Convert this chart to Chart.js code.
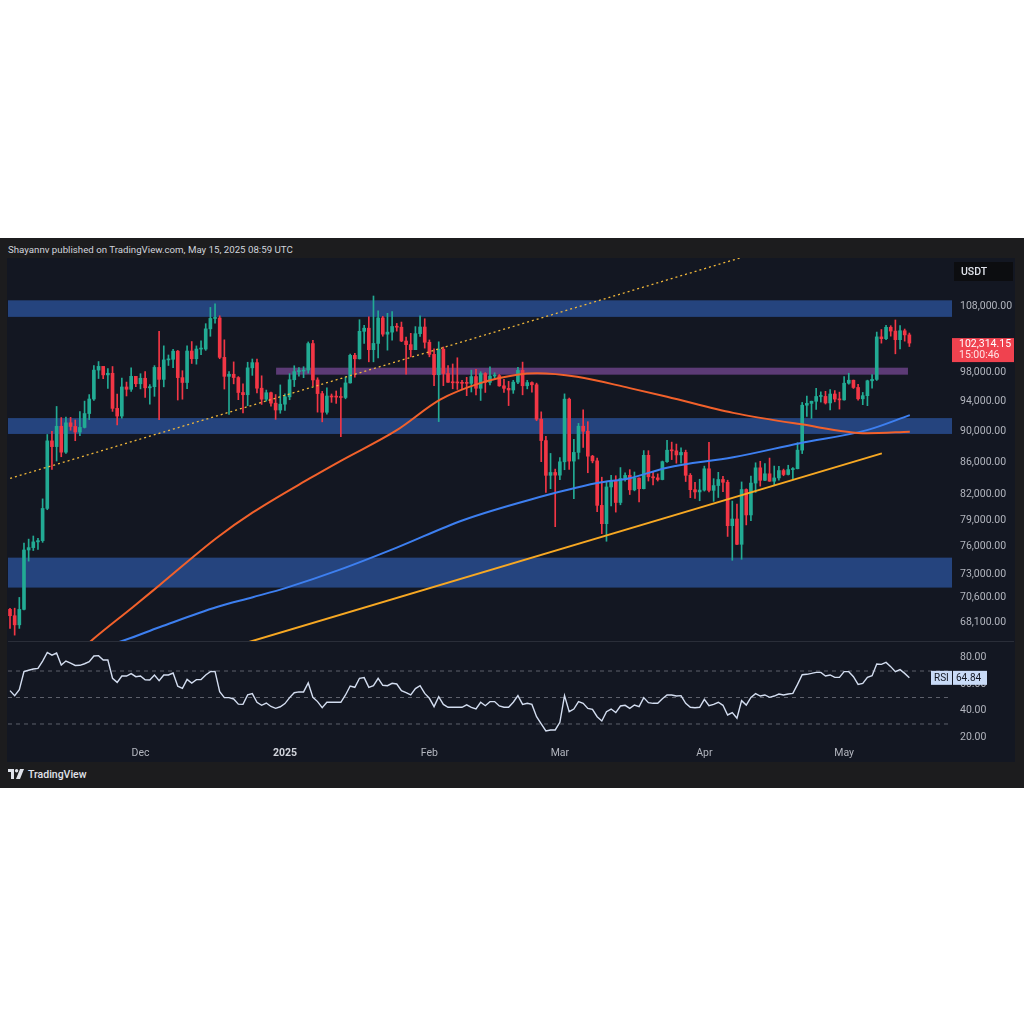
<!DOCTYPE html>
<html>
<head>
<meta charset="utf-8">
<title>BTC/USDT 1D</title>
<script src="https://cdn.jsdelivr.net/npm/chart.js@4.4.1/dist/chart.umd.min.js"></script>
<style>
  html, body { margin: 0; padding: 0; background: #ffffff; }
  body { width: 1024px; height: 1024px; position: relative; overflow: hidden; font-family: Roboto, "Noto Sans", sans-serif; }
  #frame { position: absolute; left: 0; top: 238px; width: 1024px; height: 550px; background: #1c1c1e; }
  #header { position: absolute; left: 8px; top: 5px; font-size: 9.7px; line-height: 14px; color: #d1d4dc; white-space: nowrap; }
  #panel { position: absolute; left: 7px; top: 20px; width: 1008px; height: 504px; background: #131722; }
  #pricebox { position: absolute; left: 1px; top: 0; width: 1006px; height: 383px; }
  #sep { position: absolute; left: 1px; top: 383px; width: 1006px; height: 1px; background: #2a2e39; }
  #rsibox { position: absolute; left: 1px; top: 384px; width: 1006px; height: 120px; }
  #footer { position: absolute; left: 8px; top: 529px; height: 14px; display: flex; align-items: center; gap: 4px; font-size: 10.5px; font-weight: 500; color: #e0e3eb; }
</style>
</head>
<body>
<div id="frame">
  <div id="header">Shayannv published on TradingView.com, May 15, 2025 08:59 UTC</div>
  <div id="panel">
    <div id="pricebox"><canvas id="priceChart"></canvas></div>
    <div id="sep"></div>
    <div id="rsibox"><canvas id="rsiChart"></canvas></div>
  </div>
  <div id="footer">
    <svg width="16" height="10" viewBox="0 0 16 10">
      <path d="M0 0h6v10H3V3H0z" fill="#e0e3eb"/>
      <circle cx="8.6" cy="1.7" r="1.7" fill="#e0e3eb"/>
      <path d="M12 0h4l-4 10H8z" fill="#e0e3eb"/>
    </svg>
    <span>TradingView</span>
  </div>
</div>

<script>
// BTC/USDT daily, 3 Nov 2024 -> 15 May 2025 (prices in thousands of USDT)
const opens = [
  69.36, 68.72, 67.81, 69.36, 75.64, 75.90, 76.54, 76.68, 80.37, 88.70, 87.96, 90.61, 87.25, 91.07, 90.59, 89.85, 90.46, 92.31, 94.29, 98.35, 98.89, 97.67, 97.90, 93.01, 91.97, 95.96, 95.64, 97.46,
  96.41, 97.19, 95.84, 96.00, 98.74, 97.03, 99.83, 99.92, 101.11, 97.28, 96.59, 101.13, 100.00, 101.42, 101.42, 104.46, 106.06, 106.13, 100.20, 97.46, 97.76, 97.29, 95.19, 94.88, 98.68, 99.43, 95.79, 94.27, 95.16, 93.72, 92.79,
  93.58, 94.59, 96.98, 98.14, 98.22, 98.36, 102.24, 96.95, 95.04, 92.48, 94.70, 94.57, 94.55, 94.50, 96.53, 100.50, 99.99, 104.08, 104.56, 101.33, 102.26, 106.14, 103.65, 103.96, 104.82, 104.71, 102.62, 102.08, 101.33, 103.73, 104.74,
  102.43, 100.64, 97.69, 101.40, 97.87, 96.62, 96.55, 96.53, 96.48, 96.47, 97.43, 95.78, 97.87, 96.61, 97.51, 97.57, 96.12, 95.77, 95.54, 96.64, 98.31, 96.13, 96.58, 96.27, 91.55, 88.74, 84.35, 84.70,
  84.37, 86.03, 94.27, 86.12, 87.22, 90.62, 89.96, 86.74, 86.15, 80.73, 78.60, 82.93, 83.68, 81.07, 83.97, 84.34, 82.58, 84.01, 82.72, 86.85, 84.17, 84.04, 83.83, 86.05, 87.50, 87.42, 86.90, 87.22, 84.35, 82.60, 82.33,
  82.55, 85.16, 82.52, 83.10, 83.84, 83.50, 78.37, 79.14, 76.27, 82.62, 79.61, 83.40, 85.28, 83.74, 84.54, 83.63, 84.03, 84.94, 84.45, 85.06, 85.17, 87.51, 93.44, 93.69, 93.98, 94.64, 94.65, 93.75, 94.98, 94.28,
  94.17, 96.49, 96.91, 95.89, 94.32, 94.75, 96.83, 97.03, 103.24, 102.97, 104.70, 104.12, 102.82, 104.17, 103.54
];
const highs = [
  69.47, 69.48, 70.58, 76.40, 76.85, 77.20, 76.93, 81.50, 89.53, 89.96, 93.27, 91.77, 91.85, 91.80, 91.45, 92.59, 94.00, 94.90, 98.99, 99.59, 98.89, 98.56, 98.87, 94.97, 97.20, 96.65, 98.69, 97.46,
  97.84, 98.15, 96.30, 99.00, 104.09, 101.90, 100.55, 101.40, 101.22, 98.27, 101.90, 102.54, 101.89, 102.65, 105.25, 107.78, 108.35, 106.47, 102.80, 98.15, 99.54, 97.43, 96.42, 99.49, 99.96, 99.96, 97.54, 95.53, 95.24, 94.90, 96.25,
  95.00, 97.84, 98.98, 98.73, 98.84, 102.48, 102.72, 97.26, 95.35, 95.84, 94.98, 95.40, 95.84, 97.37, 100.68, 100.78, 105.86, 104.99, 106.31, 109.59, 107.24, 106.39, 106.85, 107.12, 105.29, 105.50, 103.22, 103.78, 104.80, 106.46, 106.01,
  102.78, 101.46, 102.50, 101.73, 99.00, 99.24, 100.14, 96.88, 97.32, 98.35, 98.48, 98.12, 98.00, 98.83, 97.97, 97.73, 97.05, 96.75, 96.90, 98.76, 99.51, 96.90, 96.67, 96.50, 92.54, 89.29, 87.09, 85.12,
  86.56, 95.00, 94.42, 88.91, 90.99, 92.81, 91.22, 86.85, 86.50, 84.12, 83.62, 84.36, 84.30, 85.31, 84.67, 85.05, 84.76, 84.04, 87.45, 87.44, 84.78, 84.53, 86.13, 88.77, 88.54, 88.29, 87.79, 87.51, 84.57, 83.50, 83.87,
  85.49, 88.50, 83.94, 84.72, 84.24, 83.75, 81.24, 80.87, 83.54, 82.70, 84.27, 85.91, 86.10, 85.80, 86.50, 85.50, 85.47, 85.12, 85.60, 85.31, 88.46, 93.82, 94.70, 94.00, 95.76, 95.28, 95.35, 95.60, 95.46, 95.24,
  97.44, 97.90, 96.94, 96.32, 95.20, 96.92, 97.73, 103.97, 104.36, 104.98, 104.94, 105.82, 104.96, 104.43, 103.82
];
const lows = [
  67.46, 66.80, 67.46, 69.30, 74.42, 75.58, 75.70, 76.49, 80.22, 85.07, 86.13, 86.67, 87.10, 90.09, 88.72, 89.38, 90.38, 91.50, 94.10, 97.15, 97.13, 95.75, 92.60, 90.79, 91.70, 94.71, 95.35, 96.00,
  95.69, 94.50, 93.58, 94.66, 91.50, 95.98, 99.02, 98.69, 94.15, 94.26, 95.71, 99.31, 99.21, 100.60, 101.23, 103.33, 105.32, 100.00, 95.67, 92.18, 96.40, 94.20, 92.40, 93.38, 97.60, 95.14, 93.55, 94.00, 93.31, 91.53, 92.35,
  92.74, 94.19, 96.02, 97.50, 97.27, 97.91, 96.13, 92.50, 91.20, 92.21, 93.83, 93.69, 89.26, 94.32, 96.50, 97.33, 99.95, 102.27, 99.55, 99.55, 100.12, 103.34, 101.26, 102.75, 104.11, 102.52, 97.78, 100.27, 101.33, 103.32, 101.56,
  100.28, 96.15, 91.23, 96.15, 96.59, 95.71, 95.62, 95.69, 94.75, 95.26, 94.87, 94.09, 95.20, 96.25, 97.23, 96.05, 95.21, 93.39, 95.07, 96.43, 94.87, 95.70, 95.23, 91.35, 86.05, 82.26, 82.72, 78.26,
  83.82, 85.04, 85.08, 81.53, 86.38, 87.85, 84.67, 85.90, 80.00, 77.46, 76.61, 80.66, 79.94, 80.80, 83.63, 82.02, 82.46, 81.14, 82.69, 83.65, 83.18, 83.65, 83.79, 85.95, 86.31, 85.86, 85.85, 83.59, 81.64, 81.56, 81.28,
  82.43, 82.32, 81.21, 81.66, 82.37, 77.15, 74.51, 76.24, 74.62, 78.46, 78.94, 82.27, 83.03, 83.68, 83.61, 83.11, 83.76, 84.30, 84.39, 83.95, 85.14, 87.07, 91.93, 91.66, 92.86, 93.87, 93.60, 92.80, 93.90, 92.91,
  94.13, 96.35, 95.75, 94.13, 93.51, 93.38, 95.80, 96.88, 102.30, 102.81, 103.35, 100.72, 101.43, 102.60, 101.80
];
const closes = [
  68.72, 67.81, 69.36, 75.64, 75.90, 76.54, 76.68, 80.37, 88.70, 87.96, 90.61, 87.25, 91.07, 90.59, 89.85, 90.46, 92.31, 94.29, 98.35, 98.89, 97.67, 97.90, 93.01, 91.97, 95.96, 95.64, 97.46, 96.41,
  97.19, 95.84, 96.00, 98.74, 97.03, 99.83, 99.92, 101.11, 97.28, 96.59, 101.13, 100.00, 101.42, 101.42, 104.46, 106.06, 106.13, 100.20, 97.46, 97.76, 97.29, 95.19, 94.88, 98.68, 99.43, 95.79, 94.27, 95.16, 93.72, 92.79, 93.58,
  94.59, 96.98, 98.14, 98.22, 98.36, 102.24, 96.95, 95.04, 92.48, 94.70, 94.57, 94.55, 94.50, 96.53, 100.50, 99.99, 104.08, 104.56, 101.33, 102.26, 106.14, 103.65, 103.96, 104.82, 104.71, 102.62, 102.08, 101.33, 103.73, 104.74, 102.43,
  100.64, 97.69, 101.40, 97.87, 96.62, 96.55, 96.53, 96.48, 96.47, 97.43, 95.78, 97.87, 96.61, 97.51, 97.57, 96.12, 95.77, 95.54, 96.64, 98.31, 96.13, 96.58, 96.27, 91.55, 88.74, 84.35, 84.70, 84.37,
  86.03, 94.27, 86.12, 87.22, 90.62, 89.96, 86.74, 86.15, 80.73, 78.60, 82.93, 83.68, 81.07, 83.97, 84.34, 82.58, 84.01, 82.72, 86.85, 84.17, 84.04, 83.83, 86.05, 87.50, 87.42, 86.90, 87.22, 84.35, 82.60, 82.33, 82.55,
  85.16, 82.52, 83.10, 83.84, 83.50, 78.37, 79.14, 76.27, 82.62, 79.61, 83.40, 85.28, 83.74, 84.54, 83.63, 84.03, 84.94, 84.45, 85.06, 85.17, 87.51, 93.44, 93.69, 93.98, 94.64, 94.65, 93.75, 94.98, 94.28, 94.17,
  96.49, 96.91, 95.89, 94.32, 94.75, 96.83, 97.03, 103.24, 102.97, 104.70, 104.12, 102.82, 104.17, 103.54, 102.31
];
const lastPrice = "102,314.15";
const countdown = "15:00:46";

const rsiValues = [
  55.2, 51.4, 55.9, 69.5, 70.6, 71.5, 72.0, 77.5, 84.0, 82.0,
  83.6, 74.5, 77.5, 76.0, 74.2, 74.3, 75.5, 77.0, 81.3, 81.6,
  78.3, 78.3, 64.5, 61.4, 66.2, 66.2, 68.0, 65.7, 66.2, 63.4,
  63.2, 67.0, 62.7, 67.0, 67.0, 68.5, 58.5, 56.9, 63.7, 60.9,
  63.5, 63.5, 67.0, 69.5, 69.7, 54.4, 49.9, 49.9, 48.9, 45.0,
  44.8, 52.0, 52.9, 46.4, 44.1, 45.8, 43.2, 41.8, 43.0, 45.4,
  49.9, 53.6, 54.2, 54.2, 61.0, 50.1, 46.9, 42.3, 46.4, 46.4,
  46.4, 46.4, 51.9, 58.7, 57.7, 64.5, 65.0, 57.7, 58.9, 64.5,
  59.2, 58.9, 60.7, 60.2, 55.2, 53.6, 51.9, 56.7, 58.9, 53.1,
  49.4, 43.1, 50.6, 44.8, 42.6, 42.6, 42.6, 42.6, 44.5, 42.5,
  41.3, 46.4, 43.8, 46.9, 46.9, 43.6, 42.6, 42.6, 46.4, 51.4,
  44.8, 45.6, 44.8, 35.5, 30.0, 24.7, 25.5, 25.5, 31.3, 51.4,
  39.3, 41.3, 46.9, 45.6, 41.8, 41.1, 35.5, 32.3, 39.3, 41.3,
  38.6, 43.6, 44.1, 41.8, 44.3, 43.1, 49.9, 46.1, 45.6, 45.6,
  49.1, 51.9, 51.9, 51.1, 51.4, 45.6, 42.6, 42.3, 42.6, 48.6,
  43.8, 44.8, 46.4, 44.1, 36.8, 38.6, 34.3, 47.6, 44.3, 50.1,
  52.9, 51.1, 51.9, 50.1, 51.1, 52.6, 51.9, 52.6, 53.1, 59.9,
  67.2, 67.5, 68.2, 69.0, 69.0, 66.2, 67.0, 65.2, 65.2, 69.5,
  69.5, 65.7, 59.9, 60.7, 65.2, 66.5, 75.3, 75.0, 76.5, 73.3,
  69.5, 71.0, 68.2, 64.84
];

// moving averages, read at sample days (day index -> value)
const orangeDays = [12, 17.2, 26.4, 32.2, 44.4, 52.1, 64.4, 70.8, 83, 92.3, 100.9, 108.8, 113.1, 121.7, 133, 141, 155.2, 169.5, 183.9, 193.1];
const orangeVals = [64.0, 66.16, 69.6, 71.9, 77.0, 79.9, 84.0, 86.1, 90.1, 94.2, 96.5, 97.7, 97.9, 97.4, 95.8, 94.6, 92.4, 90.9, 89.7, 89.9];
const blueDays = [19, 23.6, 32.2, 44.4, 52.1, 59.4, 70.8, 83, 97.2, 111.6, 126, 133, 141, 155.2, 169.5, 183.9, 193.1];
const blueVals = [65.6, 66.16, 67.6, 69.6, 70.6, 71.6, 73.5, 75.9, 79.0, 81.4, 83.4, 84.0, 85.3, 86.6, 88.4, 90.1, 92.1];

// drawn trend lines
const supportDays = [45, 187.1];
const supportVals = [65.3, 87.1];
const dottedDays = [-1, 160];
const dottedVals = [83.8, 116.65];

// horizontal zones
const zoneLows = [106.3, 89.6, 71.6];
const zoneHighs = [108.9, 91.7, 74.8];
const purpleLow = 97.7, purpleHigh = 98.7;
const purpleDays = [57.1, 192.7];

// axes
const priceTicks = [68.1, 70.6, 73, 76, 79, 82, 86, 90, 94, 98, 102, 108];
const rsiTicks = [20, 40, 60, 80];
const rsiLevels = [30, 50, 70];
const monthDays = [28, 59, 90, 118, 149, 179];
const monthLabels = ["Dec", "2025", "Feb", "Mar", "Apr", "May"];

const xMin = -0.43, xMax = 202.15;
const upColor = "#22ab94", downColor = "#f23645";
const axisColor = "#b2b5be";

Chart.defaults.font.family = "Roboto";
Chart.defaults.animation = false;

const days = closes.map((_, i) => i);
const candleColor = (c) => closes[c.dataIndex] >= opens[c.dataIndex] ? upColor : downColor;
// fixed axis width, and no extra room kept for the end labels
const fixWidth = (scale) => { scale.width = 62; scale.paddingTop = 0; scale.paddingBottom = 0; };
const fmt = (v) => v.toLocaleString("en-US", { minimumFractionDigits: 2, maximumFractionDigits: 2 });

const zonesPlugin = {
  id: "zones",
  beforeDatasetsDraw(chart) {
    const { ctx, chartArea: a, scales: { x, y } } = chart;
    ctx.save();
    ctx.beginPath();
    ctx.rect(a.left, a.top, a.width, a.height);
    ctx.clip();
    ctx.fillStyle = "#25447e";
    zoneLows.forEach((lo, k) => {
      const top = y.getPixelForValue(zoneHighs[k]);
      const bot = y.getPixelForValue(lo);
      ctx.fillRect(a.left, top, a.width, bot - top);
    });
    ctx.fillStyle = "#5c3b76";
    const pt = y.getPixelForValue(purpleHigh), pb = y.getPixelForValue(purpleLow);
    const px0 = x.getPixelForValue(purpleDays[0]), px1 = x.getPixelForValue(purpleDays[1]);
    ctx.fillRect(px0, pt, px1 - px0, pb - pt);
    ctx.restore();
  },
  afterDraw(chart) {
    const { ctx, chartArea: a, scales: { y } } = chart;
    ctx.save();
    // currency box
    ctx.fillStyle = "#0c0d10";
    ctx.fillRect(a.right + 2, 4, 59, 19);
    ctx.fillStyle = "#e0e3eb";
    ctx.font = "500 10.5px Roboto";
    ctx.textBaseline = "middle";
    ctx.fillText("USDT", a.right + 9, 14);
    // last price label
    const py = y.getPixelForValue(closes[closes.length - 1]);
    ctx.fillStyle = "#f0424f";
    ctx.fillRect(a.right, py - 5, 62, 24);
    ctx.fillStyle = "#ffffff";
    ctx.font = "10.5px Roboto";
    ctx.fillText(lastPrice, a.right + 7, py + 1.5);
    ctx.fillStyle = "#ffe3e5";
    ctx.fillText(countdown, a.right + 7, py + 12.5);
    ctx.restore();
  }
};

new Chart(document.getElementById("priceChart"), {
  type: "bar",
  data: {
    datasets: [
      {
        type: "line", label: "MA orange", order: 0,
        data: orangeDays.map((d, k) => ({ x: d, y: orangeVals[k] })),
        borderColor: "#f2612b", borderWidth: 2, pointRadius: 0, cubicInterpolationMode: "monotone"
      },
      {
        type: "line", label: "MA blue", order: 0,
        data: blueDays.map((d, k) => ({ x: d, y: blueVals[k] })),
        borderColor: "#3d7ff0", borderWidth: 2, pointRadius: 0, cubicInterpolationMode: "monotone"
      },
      {
        type: "line", label: "Support", order: 0,
        data: supportDays.map((d, k) => ({ x: d, y: supportVals[k] })),
        borderColor: "#f7a823", borderWidth: 2, pointRadius: 0
      },
      {
        type: "line", label: "Trend", order: 0,
        data: dottedDays.map((d, k) => ({ x: d, y: dottedVals[k] })),
        borderColor: "#f2b83a", borderWidth: 1.3, borderDash: [2, 3], pointRadius: 0
      },
      {
        label: "Bodies", order: 1, grouped: false, barThickness: 3, minBarLength: 1,
        data: days.map((i) => ({ x: i, y: [opens[i], closes[i]] })),
        backgroundColor: candleColor, borderWidth: 0
      },
      {
        label: "Wicks", order: 2, grouped: false, barThickness: 1,
        data: days.map((i) => ({ x: i, y: [lows[i], highs[i]] })),
        backgroundColor: candleColor, borderWidth: 0
      }
    ]
  },
  options: {
    responsive: true,
    maintainAspectRatio: false,
    layout: { padding: 0 },
    plugins: { legend: { display: false }, tooltip: { enabled: false } },
    scales: {
      x: {
        type: "linear", min: xMin, max: xMax, offset: false, display: false,
        grid: { display: false }
      },
      y: {
        type: "logarithmic", position: "right", min: 66.23, max: 115.84,
        grid: { display: false, drawTicks: false },
        border: { display: false },
        afterFit: fixWidth,
        afterBuildTicks: (s) => { s.ticks = priceTicks.map((v) => ({ value: v })); },
        ticks: {
          color: axisColor, padding: 8, font: { size: 10.5 },
          callback: (v) => fmt(v * 1000)
        }
      }
    }
  },
  plugins: [zonesPlugin]
});

const rsiLabelPlugin = {
  id: "rsiLabel",
  afterDraw(chart) {
    const { ctx, chartArea: a, scales: { y } } = chart;
    const last = rsiValues[rsiValues.length - 1];
    const py = y.getPixelForValue(last);
    ctx.save();
    ctx.fillStyle = "#c9dbf7";
    ctx.fillRect(a.right - 21, py - 7, 21, 14);
    ctx.fillRect(a.right + 1, py - 7, 34, 14);
    ctx.fillStyle = "#131722";
    ctx.font = "10px Roboto";
    ctx.textBaseline = "middle";
    ctx.fillText("RSI", a.right - 18, py + 0.5);
    ctx.fillText(last.toFixed(2), a.right + 4, py + 0.5);
    ctx.restore();
  }
};

new Chart(document.getElementById("rsiChart"), {
  type: "line",
  data: {
    datasets: [
      {
        label: "RSI",
        data: days.map((i) => ({ x: i, y: rsiValues[i] })),
        borderColor: "#d3ddf0", borderWidth: 1.4, pointRadius: 0, tension: 0
      },
      ...rsiLevels.map((lv) => ({
        label: "level " + lv,
        data: [{ x: xMin, y: lv }, { x: xMax, y: lv }],
        borderColor: "#5d606b", borderWidth: 1, borderDash: [4, 4], pointRadius: 0
      }))
    ]
  },
  options: {
    responsive: true,
    maintainAspectRatio: false,
    layout: { padding: 0 },
    plugins: { legend: { display: false }, tooltip: { enabled: false } },
    scales: {
      x: {
        type: "linear", min: xMin, max: xMax, offset: false,
        grid: { display: false, drawTicks: false },
        border: { display: false },
        afterFit: (s) => { s.height = 20; s.paddingLeft = 0; s.paddingRight = 0; },
        afterBuildTicks: (s) => { s.ticks = monthDays.map((v) => ({ value: v })); },
        ticks: {
          autoSkip: false, maxRotation: 0, padding: 5,
          color: (c) => (c.tick && c.tick.value === 59 ? "#d1d4dc" : axisColor),
          font: (c) => ({ size: 10.5, weight: c.tick && c.tick.value === 59 ? "bold" : "normal" }),
          callback: (v, idx) => monthLabels[idx]
        }
      },
      y: {
        position: "right", min: 16.4, max: 91.9,
        grid: { display: false, drawTicks: false },
        border: { display: false },
        afterFit: fixWidth,
        afterBuildTicks: (s) => { s.ticks = rsiTicks.map((v) => ({ value: v })); },
        ticks: { color: axisColor, padding: 8, font: { size: 10.5 }, callback: (v) => v.toFixed(2) }
      }
    }
  },
  plugins: [rsiLabelPlugin]
});
</script>
</body>
</html>
